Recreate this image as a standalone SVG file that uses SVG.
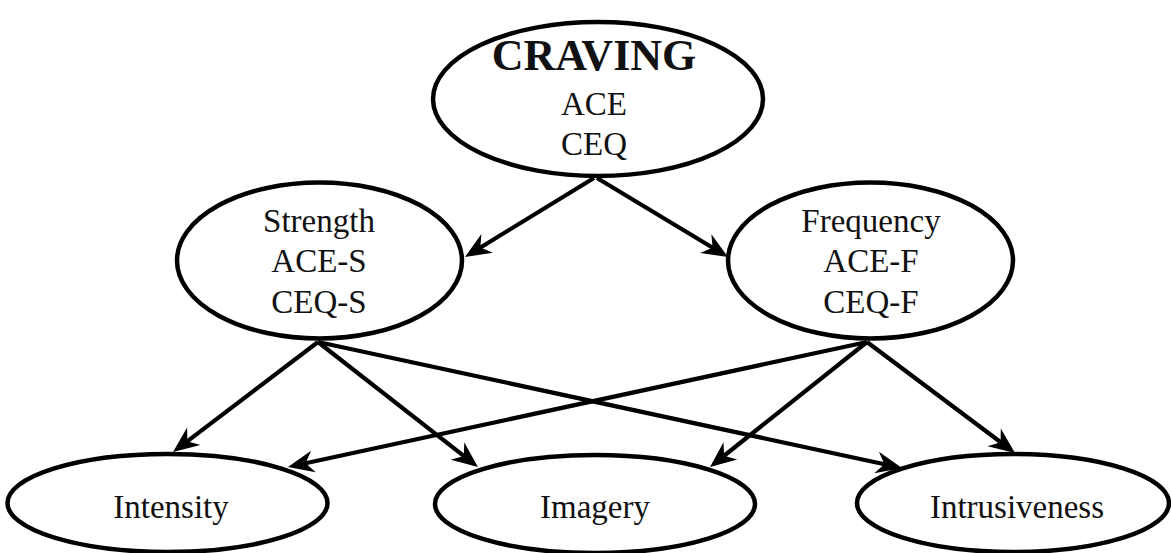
<svg xmlns="http://www.w3.org/2000/svg" width="1171" height="553" viewBox="0 0 1171 553">
<style>
.node ellipse{fill:#fff;stroke:#000;stroke-width:4.5}
text{font-family:"Liberation Serif","Times New Roman",serif;font-size:33px;fill:#111;text-anchor:middle}
.title{font-weight:bold;font-size:44px}
.edges line{stroke:#000;stroke-width:4.2;marker-end:url(#ah)}
</style>
<defs>
<marker id="ah" markerUnits="userSpaceOnUse" markerWidth="40" markerHeight="40" refX="0" refY="0" orient="auto" overflow="visible">
<path d="M12,0 L-14,-11 L-6,0 L-14,11 Z" fill="#000"/>
</marker>
</defs>
<rect width="1171" height="553" fill="#fff"/>
<g id="craving" class="node">
<ellipse cx="598" cy="99" rx="165" ry="77"/>
<text x="594" y="70" class="title">CRAVING</text>
<text x="594" y="115">ACE</text>
<text x="594" y="155">CEQ</text>
</g>
<g id="strength" class="node">
<ellipse cx="319.5" cy="260.5" rx="142.5" ry="78"/>
<text x="319" y="232">Strength</text>
<text x="319" y="272">ACE-S</text>
<text x="319" y="313">CEQ-S</text>
</g>
<g id="frequency" class="node">
<ellipse cx="870.5" cy="260.5" rx="142.5" ry="78"/>
<text x="871" y="232">Frequency</text>
<text x="871" y="272">ACE-F</text>
<text x="871" y="313">CEQ-F</text>
</g>
<g id="intensity" class="node">
<ellipse cx="167.5" cy="503" rx="160" ry="49"/>
<text x="171" y="518">Intensity</text>
</g>
<g id="imagery" class="node">
<ellipse cx="595" cy="504" rx="160" ry="49"/>
<text x="595" y="518">Imagery</text>
</g>
<g id="intrusiveness" class="node">
<ellipse cx="1013" cy="503" rx="156" ry="49"/>
<text x="1017" y="518">Intrusiveness</text>
</g>
<g id="connectors" class="edges">
<line x1="594" y1="178" x2="475.2" y2="250.7"/>
<line x1="597" y1="178" x2="717.7" y2="250.8"/>
<line x1="318" y1="342" x2="182.6" y2="444.8"/>
<line x1="318" y1="342" x2="468.5" y2="459.6"/>
<line x1="318" y1="342" x2="890.3" y2="465.5"/>
<line x1="867" y1="342" x2="299.7" y2="464.5"/>
<line x1="867" y1="342" x2="719.4" y2="459.5"/>
<line x1="867" y1="342" x2="1005.4" y2="445.8"/>
</g>
</svg>
